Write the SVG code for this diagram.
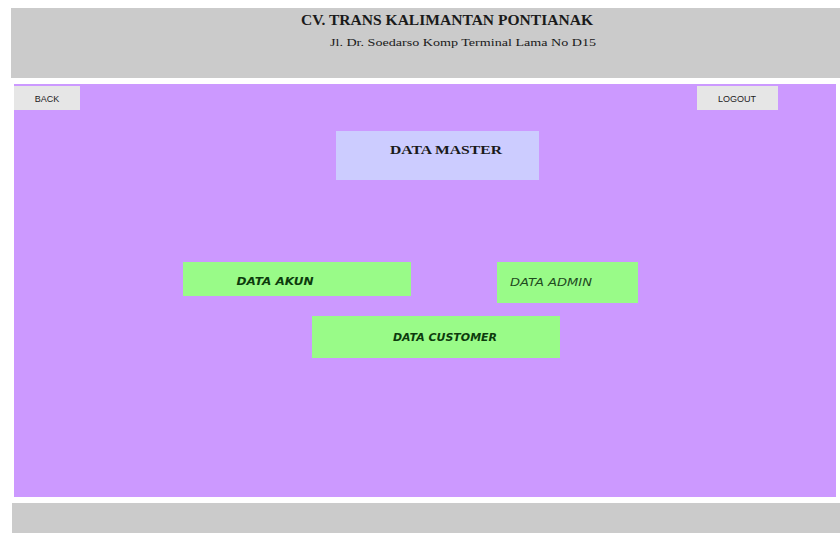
<svg xmlns="http://www.w3.org/2000/svg" width="840" height="533" viewBox="0 0 840 533">
  <style>
    .bar { fill: #cbcbcb; }
    .panel { fill: #cc99ff; }
    .btn { fill: #e6e6e6; }
    .menu { fill: #99fb88; }
    .serif { font-family: "Liberation Serif", "Times New Roman", serif; fill: #1a1a1a; }
    .sans { font-family: "Liberation Sans", Arial, sans-serif; fill: #222; }
    .item { font-family: "DejaVu Sans", "Liberation Sans", sans-serif; font-style: italic; font-size: 10px; font-weight: bold; fill: #0d3b0d; }
    .item.light { font-weight: normal; fill: #1f4a1f; }
  </style>
  <rect width="840" height="533" fill="#ffffff"/>

  <!-- header -->
  <g id="header">
    <rect class="bar" x="11" y="8" width="829" height="70"/>
    <text class="serif" x="447" y="25" font-size="14" font-weight="bold" text-anchor="middle" textLength="292" lengthAdjust="spacingAndGlyphs">CV. TRANS KALIMANTAN PONTIANAK</text>
    <text class="serif" x="463" y="46" font-size="11" text-anchor="middle" textLength="266" lengthAdjust="spacingAndGlyphs">Jl. Dr. Soedarso Komp Terminal Lama No D15</text>
  </g>

  <!-- main panel -->
  <rect class="panel" x="14" y="84" width="822" height="413"/>

  <g id="back">
    <rect class="btn" x="14" y="86" width="66" height="24"/>
    <text class="sans" x="47" y="102" font-size="9" text-anchor="middle">BACK</text>
  </g>
  <g id="logout">
    <rect class="btn" x="697" y="86" width="81" height="24"/>
    <text class="sans" x="737" y="102" font-size="9" text-anchor="middle">LOGOUT</text>
  </g>

  <g id="data-master">
    <rect x="336" y="131" width="203" height="49" fill="#ccccff"/>
    <text class="serif" x="446" y="154" font-size="13" font-weight="bold" text-anchor="middle" textLength="112" lengthAdjust="spacingAndGlyphs">DATA MASTER</text>
  </g>

  <g id="data-akun">
    <rect class="menu" x="183" y="262" width="228" height="34"/>
    <text class="item" x="275" y="285" text-anchor="middle" textLength="77" lengthAdjust="spacingAndGlyphs">DATA AKUN</text>
  </g>
  <g id="data-admin">
    <rect class="menu" x="497" y="262" width="141" height="41"/>
    <text class="item light" x="551" y="286" text-anchor="middle" textLength="82" lengthAdjust="spacingAndGlyphs">DATA ADMIN</text>
  </g>
  <g id="data-customer">
    <rect class="menu" x="312" y="316" width="248" height="42"/>
    <text class="item" x="445" y="341" text-anchor="middle" textLength="104" lengthAdjust="spacingAndGlyphs">DATA CUSTOMER</text>
  </g>

  <!-- connectors: none drawn -->
  <g id="connectors"/>

  <!-- footer -->
  <rect class="bar" x="12" y="503" width="828" height="30"/>
</svg>
